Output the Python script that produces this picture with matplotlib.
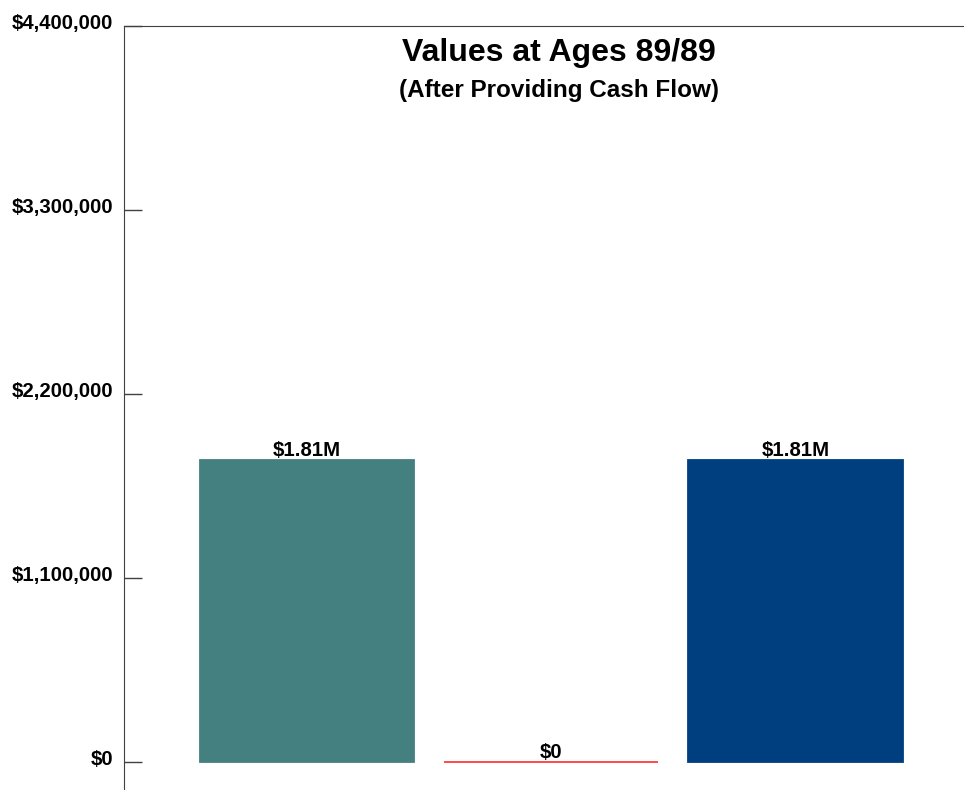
import matplotlib.pyplot as plt
import matplotlib.transforms as mtransforms

plt.rcParams['font.family'] = ['Liberation Sans', 'DejaVu Sans']
plt.rcParams['font.weight'] = 'bold'

# data
categories = ['A', 'B', 'C']
values = [1807000, 0, 1807000]
colors = ['#44807f', '#ffffff', '#003f7f']
edges = ['#44807f', '#ff3b3b', '#003f7f']
yticks = [0, 1100000, 2200000, 3300000, 4400000]

fig = plt.figure(figsize=(9.64, 7.9), dpi=100)
ax = fig.add_axes([124/964, 0, 1 - 124/964, 1 - 26/790])

xs = range(len(categories))
ax.bar(xs, values, width=0.877, color=colors, edgecolor=edges, linewidth=1.3)

for x, v in zip(xs, values):
    if v == 0:
        lab = '$0'
    else:
        lab = '${:.2f}M'.format(v / 1e6)
    ax.text(x, v, lab, ha='center', va='bottom', fontsize=14.7, fontweight='bold')

ax.set_xlim(-0.75, 2.69)
ax.set_ylim(-167000, 4400000)
ax.set_yticks(yticks)
ax.set_yticklabels(['${:,}'.format(t) for t in yticks])
ax.set_xticks([])
ax.tick_params(axis='y', direction='in', length=13, width=1, color='#404040',
               pad=8, labelsize=14.7)
offset = mtransforms.ScaledTranslation(0, 5/100, fig.dpi_scale_trans)
for lbl in ax.get_yticklabels():
    lbl.set_transform(lbl.get_transform() + offset)

ax.spines['right'].set_visible(False)
ax.spines['bottom'].set_visible(False)
ax.spines['left'].set_color('#404040')
ax.spines['top'].set_color('#404040')

fig.text(559/964, 1 - 53/790, 'Values at Ages 89/89', ha='center', va='center',
         fontsize=23, fontweight='bold')
fig.text(559/964, 1 - 90/790, '(After Providing Cash Flow)', ha='center', va='center',
         fontsize=17.5, fontweight='bold')

fig.savefig('out.png', dpi=100)
